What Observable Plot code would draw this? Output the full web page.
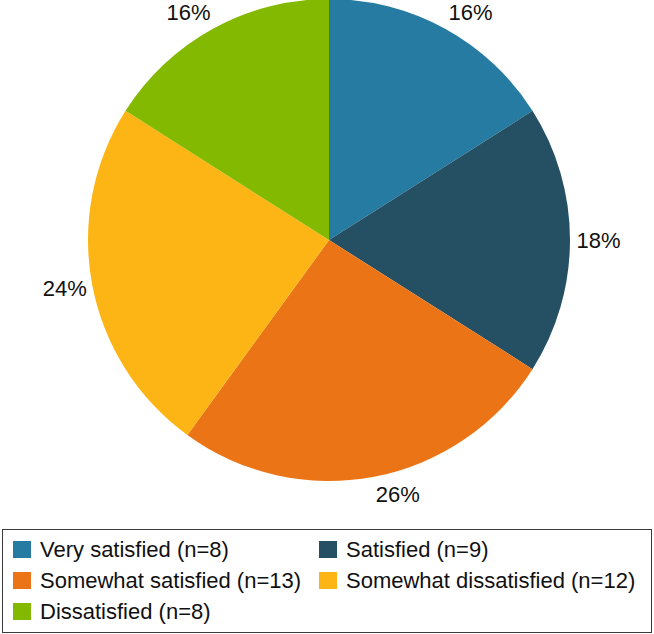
<!DOCTYPE html>
<html>
<head>
<meta charset="utf-8">
<script src="https://cdn.jsdelivr.net/npm/d3@7"></script>
<script src="https://cdn.jsdelivr.net/npm/@observablehq/plot@0.6"></script>
<style>
  html, body { margin: 0; padding: 0; background: #fff; }
  body { width: 654px; height: 634px; position: relative; font-family: "Liberation Sans", Arial, sans-serif; }
  #legend {
    position: absolute; left: 2px; top: 529px; width: 650px; height: 104px;
    border: 1px solid #3a3a3a; box-sizing: border-box;
    display: grid; grid-template-columns: 306px 1fr; grid-auto-rows: 31px;
    padding-top: 4px;
  }
  .item { display: flex; align-items: center; font-size: 22px; color: #111; white-space: nowrap; }
  .sw { width: 18px; height: 17px; margin-left: 10px; margin-right: 9px; flex: none; }
</style>
</head>
<body>
<div id="chart"></div>
<div id="legend"></div>
<script>
const categories = ["Very satisfied", "Satisfied", "Somewhat satisfied", "Somewhat dissatisfied", "Dissatisfied"];
const counts = [8, 9, 13, 12, 8];
const percentLabels = ["16%", "18%", "26%", "24%", "16%"];
const colors = ["#257ba1", "#254f62", "#eb7516", "#fcb514", "#83b901"];

const data = categories.map((c, i) => ({category: c, n: counts[i], pct: percentLabels[i]}));

const W = 654, H = 529;
const cx = 329, cy = 240, R = 241;
const labelW = 44, labelH = 25, pad = 6;

const arcs = d3.pie().sort(null).value(d => d.n)(data);

// label positions derived from slice mid-angles ("outside end" placement)
const labels = arcs.map(a => {
  const mid = (a.startAngle + a.endAngle) / 2;
  const s = Math.sin(mid), c = Math.cos(mid);
  const px = cx + (R + pad) * s, py = cy - (R + pad) * c;
  const sx = Math.abs(s) < 1e-6 ? 0 : Math.sign(s);
  return {x: px + sx * labelW / 2, y: py - c * labelH / 2, text: a.data.pct};
});

function pie(index, scales) {
  const color = scales.color ?? d3.scaleOrdinal(categories, colors);
  const arc = d3.arc().innerRadius(0).outerRadius(R);
  const g = d3.create("svg:g").attr("transform", `translate(${cx},${cy})`);
  g.selectAll("path").data(arcs).join("path")
    .attr("d", arc)
    .attr("fill", d => color(d.data.category));
  return g.node();
}

const chart = Plot.plot({
  width: W,
  height: H,
  margin: 0,
  x: {type: "identity", axis: null},
  y: {type: "identity", axis: null},
  color: {domain: categories, range: colors},
  style: {fontFamily: "Liberation Sans, Arial, sans-serif", background: "#fff", color: "#111"},
  marks: [
    pie,
    Plot.text(labels, {x: "x", y: "y", text: "text", fontSize: 22, fill: "#111", textAnchor: "middle", lineAnchor: "middle"})
  ]
});
document.getElementById("chart").appendChild(chart);

const legend = d3.select("#legend");
categories.forEach((c, i) => {
  const it = legend.append("div").attr("class", "item");
  it.append("div").attr("class", "sw").style("background", colors[i]);
  it.append("span").text(`${c} (n=${counts[i]})`);
});
</script>
</body>
</html>
